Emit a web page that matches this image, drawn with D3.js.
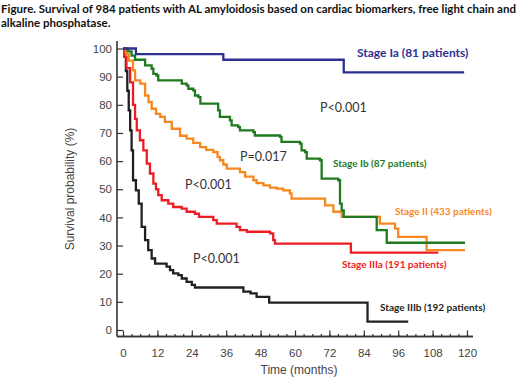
<!DOCTYPE html>
<html>
<head>
<meta charset="utf-8">
<script src="https://cdn.jsdelivr.net/npm/d3@7"></script>
<style>
  body { margin: 0; background: #fff; }
  svg { display: block; }
</style>
</head>
<body>
<svg id="chart" width="520" height="377"></svg>
<script>
// Kaplan-Meier steps: [months, survival %]
const stageIa = [[0,100],[4.5,98],[35,96],[77,91.5]];
const stageIb = [[0,100],[1.7,99],[3,97.5],[4.2,96],[7.7,94],[10,92.8],[10.6,91],[11.7,90.4],[12.3,88.7],[20.5,87.5],[22.2,86.9],[22.8,85.7],[24.5,85.1],[25.1,83.3],[26.3,82.7],[27,80.4],[33.2,78],[33.8,75.7],[37.3,74.5],[37.9,72.7],[40.2,72.1],[40.8,70.9],[45.5,70.3],[46,69.1],[54.8,68.6],[55.3,66.8],[61.7,66.2],[62.3,63.8],[63.5,63.2],[64.1,60.9],[68.7,60.3],[69.3,53.8],[75.1,53.2],[75.7,44.9],[76.3,42.5],[77,40.2],[88.5,35.5],[92,31]];
const stageII = [[0,100],[1,98],[2,95.7],[3.5,92.2],[4.2,88.7],[6,87.5],[7.7,83.3],[8.9,81],[10,78.6],[11.5,76.8],[13,75.7],[14.6,73.9],[17,71.5],[19.9,69],[22.2,68],[24.5,66.5],[26.9,65],[29,64],[31.5,63.2],[33,61.5],[33.8,60.3],[35,58.8],[36.2,57.3],[40.8,56.1],[42.6,54.5],[45.5,53.2],[46.6,52.2],[49,51.4],[51.3,50.6],[53.6,50.2],[55.9,49.6],[58.2,48.5],[58.8,46.7],[70.5,44.3],[73.4,42],[76.3,40.2],[89.6,37.8],[94.9,36],[96,33.1],[105.9,28.4]];
const stageIIIa = [[0,100],[0.7,97],[1.2,93],[2.5,88],[3.5,80],[4.2,75],[4.8,70.9],[5.9,67.4],[7.1,63.8],[8.3,59.1],[9.4,55.6],[10.6,52],[11.5,50],[12.3,47.9],[13.5,46.1],[15.8,44.9],[17.5,43.7],[20.5,43.1],[22.2,42],[25.1,41.3],[26.5,40.2],[31.5,39],[32.7,37.8],[39.6,36.6],[40.8,35.5],[43.2,34.9],[51.3,34.3],[52.4,31.9],[53,30.7],[79.5,27.5]];
const stageIIIb = [[0,100],[0.5,97],[1,92],[1.5,85],[2,78],[2.5,70.9],[3,63.8],[3.5,53.2],[4.5,49.6],[5.5,44.9],[6.5,36.6],[7.7,31.9],[8.8,28.4],[10,25.4],[11.2,23.6],[15.2,22.5],[16.4,21.3],[17.5,20.1],[19.3,19.5],[20.5,18.3],[22.2,17.1],[24,16],[25.1,15.1],[42,13.6],[44.5,13],[46.6,11.8],[51,9.7],[85.3,3]];

// last follow-up time of each curve
const stageNames = ["Stage Ia (81 patients)", "Stage Ib (87 patients)", "Stage II (433 patients)", "Stage IIIa (191 patients)", "Stage IIIb (192 patients)"];
const stageEnds = [119, 119.3, 119.3, 110, 99.5];
const stageColors = ["#2e3192", "#1f7a1f", "#f7871f", "#ee1c24", "#231f20"];
const xTicks = [0, 12, 24, 36, 48, 60, 72, 84, 96, 108, 120];
const yTicks = [0, 10, 20, 30, 40, 50, 60, 70, 80, 90, 100];
const pLabels = ["P<0.001", "P=0.017", "P<0.001", "P<0.001"];

const svg = d3.select("#chart");

const x = d3.scaleLinear().domain([0, 120]).range([123, 467]);
const y = d3.scaleLinear().domain([0, 100]).range([330, 48.5]);

// title
svg.append("text")
    .attr("x", 1).attr("y", 13)
    .attr("textLength", 515).attr("lengthAdjust", "spacingAndGlyphs")
    .style("font", "bold 11.5px Lato, sans-serif").style("fill", "#111")
    .text("Figure. Survival of 984 patients with AL amyloidosis based on cardiac biomarkers, free light chain and");
svg.append("text")
    .attr("x", 1).attr("y", 26.5)
    .style("font", "bold 11.5px Lato, sans-serif").style("fill", "#111")
    .text("alkaline phosphatase.");

// y axis, ticks point into the plot
const yAxis = svg.append("g").attr("transform", "translate(117,0)")
    .call(d3.axisLeft(y).tickValues(yTicks).tickSize(-6).tickPadding(5));
yAxis.select(".domain").attr("d", "M0,41V336.5");

// x axis, ticks point into the plot
const xAxis = svg.append("g").attr("transform", "translate(0,336.5)");
xAxis.call(d3.axisBottom(x).tickValues(d3.range(0, 121, 3)).tickSize(-2.5).tickFormat(""));
xAxis.call(g => g.append("g").call(d3.axisBottom(x).tickValues(xTicks).tickSize(-6).tickPadding(12)));
xAxis.selectAll(".domain").attr("d", "M117,0H473");

svg.selectAll(".domain").attr("stroke", "#333").attr("stroke-width", 1.6);
svg.selectAll(".tick line").attr("stroke", "#333").attr("stroke-width", 1.2);
svg.selectAll(".tick text")
    .style("font-family", "'Liberation Sans', Arial, sans-serif")
    .style("font-size", "11.5px").style("fill", "#444");

// axis titles
svg.append("text")
    .attr("transform", "translate(74,189) rotate(-90)")
    .attr("text-anchor", "middle")
    .style("font", "12px 'Liberation Sans', Arial, sans-serif").style("fill", "#444")
    .text("Survival probability (%)");
svg.append("text")
    .attr("x", 299).attr("y", 374)
    .attr("text-anchor", "middle")
    .style("font", "12px 'Liberation Sans', Arial, sans-serif").style("fill", "#444")
    .text("Time (months)");

// survival curves
const line = d3.line()
    .x(d => x(d[0]))
    .y(d => y(d[1]))
    .curve(d3.curveStepAfter);

const curves = [stageIa, stageIb, stageII, stageIIIa, stageIIIb];
// draw bottom-most first so the higher curves sit on top like the original
[4, 3, 2, 1, 0].forEach(i => {
    const pts = curves[i].concat([[stageEnds[i], curves[i][curves[i].length - 1][1]]]);
    svg.append("path")
        .attr("d", line(pts))
        .attr("fill", "none")
        .attr("stroke", stageColors[i])
        .attr("stroke-width", 2.3);
});

// curve labels
const labelPos = [[357, 56.5], [333, 166.5], [395, 214.5], [342, 268], [380, 311]];
const labelSize = [12, 10, 10, 10, 10];
stageNames.forEach((name, i) => {
    svg.append("text")
        .attr("x", labelPos[i][0]).attr("y", labelPos[i][1])
        .style("font", `bold ${labelSize[i]}px Lato, sans-serif`)
        .style("fill", stageColors[i])
        .text(name);
});

// p-values
const pPos = [[320, 112], [240, 161], [185, 189], [193, 263]];
pLabels.forEach((p, i) => {
    svg.append("text")
        .attr("x", pPos[i][0]).attr("y", pPos[i][1])
        .style("font", "12.5px Lato, sans-serif").style("fill", "#333")
        .text(p);
});
</script>
</body>
</html>
